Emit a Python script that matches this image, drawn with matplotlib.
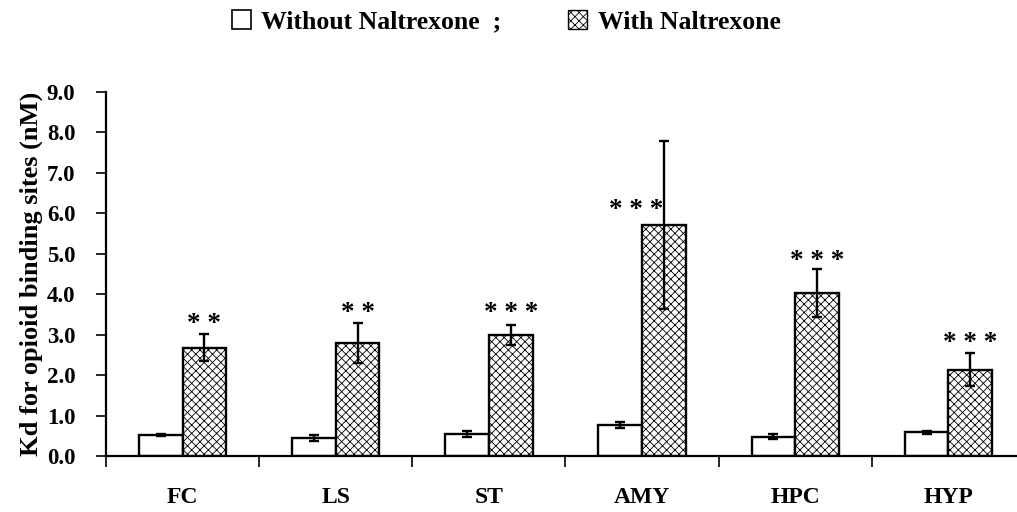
import numpy as np
import matplotlib
matplotlib.use("Agg")
import matplotlib.pyplot as plt
from matplotlib.patches import Patch

# data
regions = ["FC", "LS", "ST", "AMY", "HPC", "HYP"]
kd_without = [0.52, 0.45, 0.55, 0.77, 0.48, 0.59]
err_without = [0.03, 0.08, 0.07, 0.07, 0.07, 0.04]
kd_with = [2.68, 2.79, 2.99, 5.72, 4.03, 2.13]
err_with = [0.33, 0.49, 0.25, 2.08, 0.60, 0.41]
stars = ["* *", "* *", "* * *", "* * *", "* * *", "* * *"]
star_y = [3.25, 3.53, 3.53, 6.06, 4.80, 2.77]
star_dx = [0.0, 0.0, 0.0, -0.18, 0.0, 0.0]

plt.rcParams['font.family'] = ['Liberation Serif', 'DejaVu Serif']
plt.rcParams['font.weight'] = 'bold'
plt.rcParams['hatch.linewidth'] = 0.6
plt.rcParams['hatch.color'] = '#222222'

fig = plt.figure(figsize=(10.17, 5.12), dpi=100)
ax = fig.add_axes([0.1042, 0.1094, 0.9036, 0.7109])

x = np.arange(len(regions)) + 0.5
w = 0.285
ekw = dict(elinewidth=1.7, capthick=1.7, ecolor='black')
ax.bar(x - w / 2, kd_without, w, color='white', edgecolor='black', linewidth=1.7,
       yerr=err_without, capsize=3.5, error_kw=ekw, zorder=2)
ax.bar(x + w / 2, kd_with, w, color='white', edgecolor='black', linewidth=1.7,
       hatch='xxxx', yerr=err_with, capsize=3.5, error_kw=ekw, zorder=2)

for i in range(len(regions)):
    ax.text(x[i] + w / 2 + star_dx[i], star_y[i], stars[i], ha='center', va='center',
            fontsize=19.5, fontweight='bold')

ax.set_xlim(0, 6)
ax.set_ylim(0, 9)
ax.set_yticks(np.arange(0, 9.1, 1.0))
ax.set_yticklabels(["%.1f" % v for v in np.arange(0, 9.1, 1.0)], fontsize=16.5)
ax.set_xticks(np.arange(0, 7))
ax.set_xticklabels([])
ax.set_xticks(x, minor=True)
ax.set_xticklabels(regions, minor=True, fontsize=17)
ax.tick_params(axis='x', which='minor', length=0, pad=22)
ax.tick_params(axis='x', which='major', direction='out', length=8, width=1.2)
ax.tick_params(axis='y', direction='out', length=7, width=1.2, pad=15)
ax.spines['top'].set_visible(False)
ax.spines['right'].set_visible(False)
ax.spines['left'].set_linewidth(1.6)
ax.spines['bottom'].set_linewidth(1.6)
ax.set_ylabel("Kd for opioid binding sites (nM)", fontsize=19, fontweight='bold',
              labelpad=3)

handles = [Patch(facecolor='white', edgecolor='black', linewidth=1.2),
           Patch(facecolor='white', edgecolor='black', linewidth=1.0, hatch='xxxx')]
fig.legend(handles, ["Without Naltrexone  ;", "With Naltrexone"], ncol=2,
           loc='upper left', bbox_to_anchor=(0.205, 1.025), frameon=False,
           fontsize=18.5, handlelength=0.75, handleheight=0.75, handletextpad=0.4,
           columnspacing=2.6)

fig.savefig("out.png", dpi=100)
